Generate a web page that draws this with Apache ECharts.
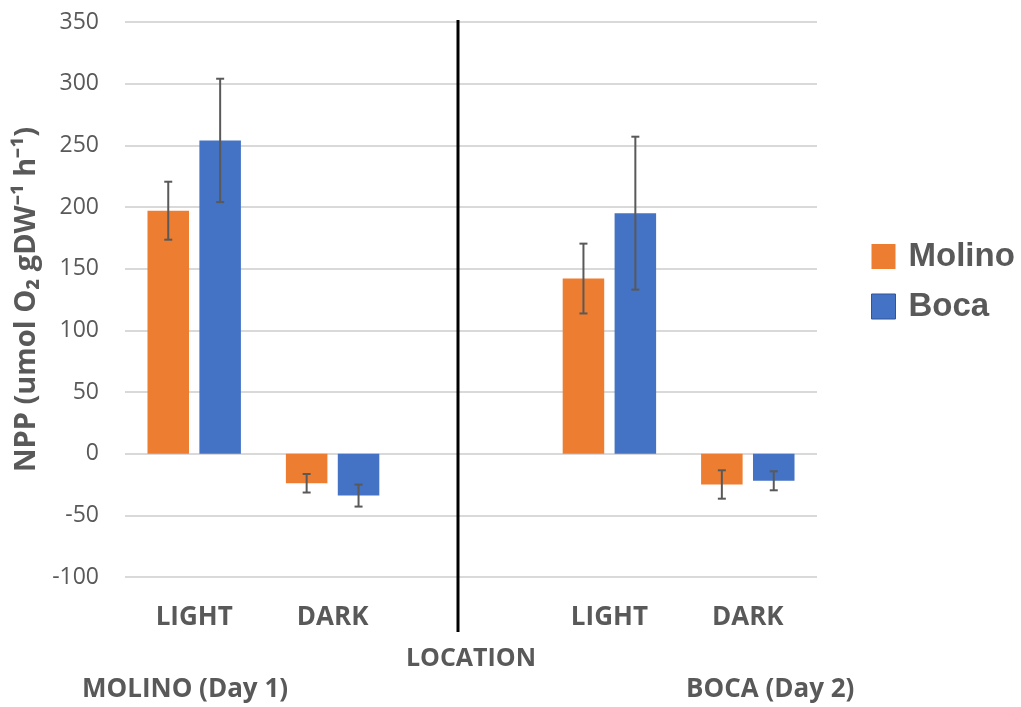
<!DOCTYPE html>
<html>
<head>
<meta charset="utf-8">
<script src="https://cdn.jsdelivr.net/npm/echarts@6/dist/echarts.min.js"></script>
<style>html,body{margin:0;padding:0;background:#fff}#c{width:1021px;height:707px}</style>
</head>
<body>
<div id="c"></div>
<script>
const categories = ['LIGHT', 'DARK', '', 'LIGHT', 'DARK'];
const seriesNames = ['Molino', 'Boca'];
const molinoValues = [197, -24, null, 142, -25];
const bocaValues = [254, -34, null, 195, -22];
const molinoErr = [23.5, 7.5, null, 28.3, 11.5];
const bocaErr = [50, 8.9, null, 62, 7.7];
const yTicks = { min: -100, max: 350, interval: 50 };
const siteLabels = ['MOLINO (Day 1)', 'BOCA (Day 2)'];
const axisTitleX = 'LOCATION';
const axisTitleY = 'NPP (umol O₂ gDW⁻¹ h⁻¹)';

const colors = ['#ED7D31', '#4472C4'];
const textColor = '#595959';
const BAR_W = 0.3, BAR_GAP = 0.25;

function errSeries(vals, errs, side) {
  return {
    type: 'custom',
    z: 10,
    silent: true,
    data: vals.map((v, i) => v == null ? null : [i, v - errs[i], v + errs[i]]).filter(d => d),
    renderItem: function (params, api) {
      const band = api.size([1, 0])[0];
      const off = side * band * BAR_W * (0.5 + BAR_GAP / 2);
      const lo = api.coord([api.value(0), api.value(1)]);
      const hi = api.coord([api.value(0), api.value(2)]);
      const x = lo[0] + off;
      const cap = 4;
      const st = { stroke: textColor, lineWidth: 2 };
      return {
        type: 'group',
        children: [
          { type: 'line', shape: { x1: x, y1: lo[1], x2: x, y2: hi[1] }, style: st },
          { type: 'line', shape: { x1: x - cap, y1: lo[1], x2: x + cap, y2: lo[1] }, style: st },
          { type: 'line', shape: { x1: x - cap, y1: hi[1], x2: x + cap, y2: hi[1] }, style: st }
        ]
      };
    }
  };
}

const chart = echarts.init(document.getElementById('c'), null, { renderer: 'canvas' });
chart.setOption({
  animation: false,
  backgroundColor: '#fff',
  color: colors,
  grid: { left: 125, right: 204, top: 22, bottom: 130 },
  legend: {
    orient: 'vertical',
    left: 871, top: 240, padding: 0,
    icon: 'rect',
    itemWidth: 24, itemHeight: 25, itemGap: 17,
    data: [
      { name: seriesNames[0] },
      { name: seriesNames[1], itemStyle: { borderColor: '#2F5597', borderWidth: 1 } }
    ],
    textStyle: { fontFamily: 'Liberation Sans', fontWeight: 'bold', fontSize: 33, color: textColor, padding: [0, 0, 0, 8] }
  },
  xAxis: {
    type: 'category',
    data: categories,
    axisLine: { show: false },
    axisTick: { show: false },
    axisLabel: { margin: 28, fontFamily: 'Open Sans', fontWeight: 'bold', fontSize: 26, color: textColor },
    name: axisTitleX,
    nameLocation: 'middle',
    nameGap: 69,
    nameTextStyle: { fontFamily: 'Open Sans', fontWeight: 'bold', fontSize: 25, color: textColor }
  },
  yAxis: {
    type: 'value',
    min: yTicks.min, max: yTicks.max, interval: yTicks.interval,
    axisLine: { show: false },
    axisTick: { show: false },
    splitLine: { lineStyle: { color: '#cccccc', width: 1.5 } },
    axisLabel: { margin: 26, fontFamily: 'Open Sans', fontSize: 23, color: textColor },
    name: axisTitleY,
    nameLocation: 'middle',
    nameRotate: 90,
    nameGap: 84,
    nameTextStyle: { fontFamily: 'Open Sans', fontWeight: 'bold', fontSize: 29, color: textColor }
  },
  graphic: [
    { type: 'line', shape: { x1: 458, y1: 20, x2: 458, y2: 632 }, style: { stroke: '#000', lineWidth: 3 }, z: 100 },
    { type: 'text', left: 82, top: 677, style: { text: siteLabels[0], font: 'bold 26px "Open Sans"', fill: textColor } },
    { type: 'text', left: 686, top: 677, style: { text: siteLabels[1], font: 'bold 26px "Open Sans"', fill: textColor } }
  ],
  series: [
    { name: seriesNames[0], type: 'bar', data: molinoValues, barWidth: (BAR_W * 100) + '%', barGap: (BAR_GAP * 100) + '%', itemStyle: { color: colors[0] } },
    { name: seriesNames[1], type: 'bar', data: bocaValues, barWidth: (BAR_W * 100) + '%', barGap: (BAR_GAP * 100) + '%', itemStyle: { color: colors[1] } },
    errSeries(molinoValues, molinoErr, -1),
    errSeries(bocaValues, bocaErr, 1)
  ]
});
</script>
</body>
</html>
